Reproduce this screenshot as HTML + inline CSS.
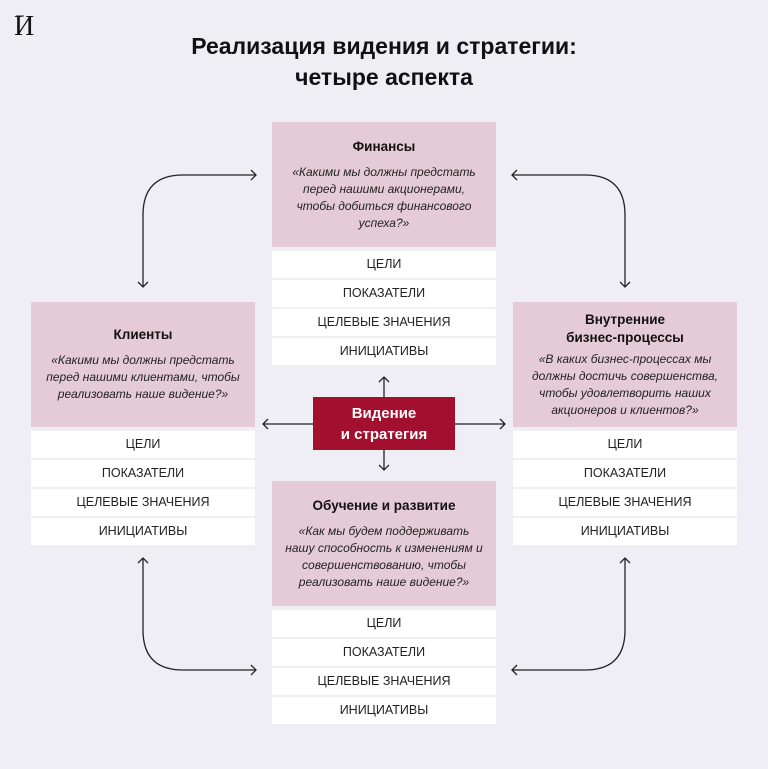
<!DOCTYPE html>
<html><head><meta charset="utf-8"><style>
body{margin:0;width:768px;height:769px;background:#efeef5;font-family:"Liberation Sans","DejaVu Sans",sans-serif;position:relative;overflow:hidden}
.t{position:absolute;left:0;width:768px;text-align:center;font-weight:bold;font-size:23px;color:#111;line-height:31px;top:31px}
.logo{position:absolute;left:14px;top:12px;font-family:"Liberation Serif",serif;font-size:28px;color:#111;line-height:30px}
.card{position:absolute;width:224px}
.hd{background:#e5cbd7;height:125px;text-align:center;display:flex;flex-direction:column;justify-content:center;box-sizing:border-box;padding:0 17px}
.hd b{font-size:13.5px;color:#111;margin-bottom:8px;line-height:18px}
.hd i{font-size:12px;line-height:17px;color:#222}
.r{background:#fff;height:27px;margin-top:2px;text-align:center;font-size:12.5px;line-height:27px;color:#222}
.hd+.r{margin-top:4px}
.c{position:absolute;left:313px;top:397px;width:142px;height:53px;background:#a3102f;color:#fff;font-weight:bold;font-size:15px;text-align:center;line-height:21px;display:flex;align-items:center;justify-content:center}
</style></head><body>
<div class="logo">И</div>
<div class="t">Реализация видения и стратегии:<br>четыре аспекта</div>
<svg width="768" height="769" style="position:absolute;left:0;top:0" fill="none" stroke="#222" stroke-width="1.3">
<path d="M16 16 H24" stroke-width="1"/>
<path d="M143 287 V215 Q143 175 183 175 H256"/><path d="M251 170 L256 175 L251 180 M138 282 L143 287 L148 282"/>
<path d="M512 175 H585 Q625 175 625 215 V287"/><path d="M517 170 L512 175 L517 180 M620 282 L625 287 L630 282"/>
<path d="M143 558 V630 Q143 670 183 670 H256"/><path d="M251 665 L256 670 L251 675 M138 563 L143 558 L148 563"/>
<path d="M625 558 V630 Q625 670 585 670 H512"/><path d="M517 665 L512 670 L517 675 M620 563 L625 558 L630 563"/>
<path d="M384 397 V377 M379 382 L384 377 L389 382"/>
<path d="M384 450 V470 M379 465 L384 470 L389 465"/>
<path d="M313 424 H263 M268 419 L263 424 L268 429"/>
<path d="M455 424 H505 M500 419 L505 424 L500 429"/>
</svg>
<div class="card" style="left:272px;top:122px"><div class="hd"><b>Финансы</b><i>«Какими мы должны предстать перед нашими акционерами, чтобы добиться финансового успеха?»</i></div><div class="r">ЦЕЛИ</div><div class="r">ПОКАЗАТЕЛИ</div><div class="r">ЦЕЛЕВЫЕ ЗНАЧЕНИЯ</div><div class="r">ИНИЦИАТИВЫ</div></div>
<div class="card" style="left:31px;top:302px"><div class="hd" style="padding:0 10px"><b>Клиенты</b><i>«Какими мы должны предстать перед нашими клиентами, чтобы реализовать наше видение?»</i></div><div class="r">ЦЕЛИ</div><div class="r">ПОКАЗАТЕЛИ</div><div class="r">ЦЕЛЕВЫЕ ЗНАЧЕНИЯ</div><div class="r">ИНИЦИАТИВЫ</div></div>
<div class="card" style="left:513px;top:302px"><div class="hd" style="padding:0 12px"><b style="margin-bottom:4px">Внутренние<br>бизнес-процессы</b><i>«В каких бизнес-процессах мы должны достичь совершенства, чтобы удовлетворить наших акционеров и клиентов?»</i></div><div class="r">ЦЕЛИ</div><div class="r">ПОКАЗАТЕЛИ</div><div class="r">ЦЕЛЕВЫЕ ЗНАЧЕНИЯ</div><div class="r">ИНИЦИАТИВЫ</div></div>
<div class="card" style="left:272px;top:481px"><div class="hd" style="padding:0 12px"><b>Обучение и развитие</b><i>«Как мы будем поддерживать нашу способность к изменениям и совершенствованию, чтобы реализовать наше видение?»</i></div><div class="r">ЦЕЛИ</div><div class="r">ПОКАЗАТЕЛИ</div><div class="r">ЦЕЛЕВЫЕ ЗНАЧЕНИЯ</div><div class="r">ИНИЦИАТИВЫ</div></div>
<div class="c">Видение<br>и стратегия</div>
</body></html>
